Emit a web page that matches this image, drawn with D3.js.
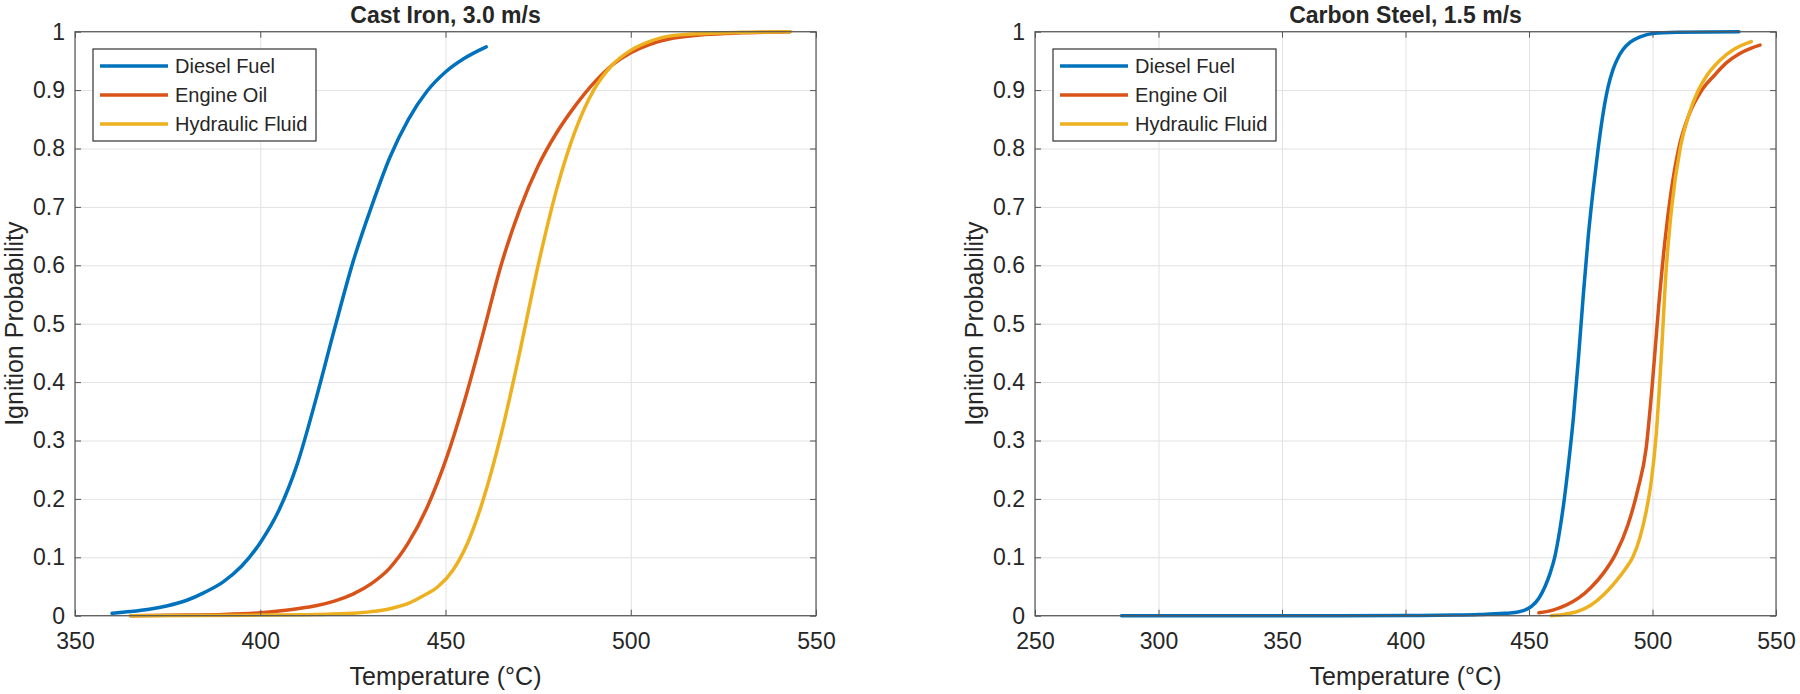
<!DOCTYPE html>
<html>
<head>
  <meta charset="utf-8">
  <title>Ignition Probability</title>
  <script src="https://d3js.org/d3.v7.min.js"></script>
  <style>
    body { margin: 0; background: #fff; }
    text { font-family: "Liberation Sans", Arial, sans-serif; fill: #262626; }
  </style>
</head>
<body>
  <div id="chart"></div>

  <script>
    // series names and MATLAB default line colours
    const fluids = ["Diesel Fuel", "Engine Oil", "Hydraulic Fluid"];
    const colors = ["#0072BD", "#D95319", "#EDB120"];

    const yTicks = [0, 0.1, 0.2, 0.3, 0.4, 0.5, 0.6, 0.7, 0.8, 0.9, 1];
    const castIronXTicks = [350, 400, 450, 500, 550];
    const carbonSteelXTicks = [250, 300, 350, 400, 450, 500, 550];

    // [temperature °C, probability]
    const castIronDiesel = [
      [360, 0.004], [365, 0.007], [370, 0.011], [375, 0.017], [380, 0.026],
      [385, 0.04], [390, 0.058], [395, 0.085], [400, 0.125], [405, 0.18],
      [410, 0.26], [415, 0.37], [420, 0.49], [425, 0.605], [430, 0.70],
      [435, 0.785], [440, 0.85], [445, 0.898], [450, 0.931], [455, 0.954],
      [461, 0.974]
    ];
    const castIronOil = [
      [365, 0.0], [380, 0.001], [390, 0.002], [400, 0.005], [405, 0.008],
      [410, 0.012], [415, 0.017], [420, 0.025], [425, 0.037], [430, 0.055],
      [435, 0.082], [440, 0.125], [445, 0.185], [450, 0.265], [455, 0.365],
      [460, 0.48], [465, 0.60], [470, 0.695], [475, 0.77], [480, 0.827],
      [485, 0.873], [490, 0.912], [495, 0.943], [500, 0.964], [505, 0.978],
      [510, 0.987], [520, 0.995], [530, 0.998], [543, 1.0]
    ];
    const castIronHydraulic = [
      [365, 0.0], [400, 0.001], [415, 0.002], [425, 0.004], [430, 0.007],
      [435, 0.012], [440, 0.021], [444, 0.034], [448, 0.05], [452, 0.078],
      [456, 0.125], [460, 0.195], [465, 0.31], [470, 0.45], [475, 0.60],
      [480, 0.73], [485, 0.83], [490, 0.90], [495, 0.943], [500, 0.968],
      [505, 0.983], [510, 0.992], [520, 0.997], [530, 0.999], [543, 1.0]
    ];

    const carbonSteelDiesel = [
      [285, 0.0], [350, 0.0], [400, 0.0003], [420, 0.001], [430, 0.002],
      [440, 0.004], [445, 0.006], [448, 0.009], [451, 0.016], [454, 0.03],
      [456.5, 0.05], [458.5, 0.072], [460.4, 0.10], [462.4, 0.145], [464.3, 0.20],
      [466, 0.26], [468, 0.34], [470, 0.44], [472, 0.55], [474, 0.65],
      [476, 0.73], [478, 0.80], [480, 0.86], [482, 0.905], [484, 0.935],
      [486, 0.955], [488, 0.969], [491, 0.982], [495, 0.991], [500, 0.997],
      [510, 0.999], [535, 1.0]
    ];
    const carbonSteelOil = [
      [454, 0.005], [460, 0.01], [465, 0.018], [470, 0.03], [475, 0.048],
      [480, 0.072], [485, 0.105], [490, 0.155], [494, 0.215], [497.4, 0.286],
      [500, 0.40], [502.5, 0.53], [505, 0.64], [507.5, 0.725], [510.6, 0.80],
      [515, 0.86], [520, 0.90], [525, 0.925], [530, 0.947], [535, 0.962],
      [540, 0.972], [543.5, 0.977]
    ];
    const carbonSteelHydraulic = [
      [459, 0.0], [465, 0.003], [470, 0.008], [475, 0.018], [480, 0.035],
      [485, 0.058], [489, 0.08], [492, 0.10], [495, 0.135], [497.5, 0.18],
      [499.5, 0.23], [501.5, 0.31], [503.5, 0.44], [505.5, 0.59], [507.8, 0.70],
      [511.2, 0.80], [514.5, 0.855], [518.6, 0.90], [522, 0.925], [527, 0.95],
      [533, 0.97], [540, 0.983]
    ];

    const width = 1800, height = 694;
    const svg = d3.select("#chart").append("svg")
      .attr("width", width)
      .attr("height", height);

    const panels = [
      {
        title: "Cast Iron, 3.0 m/s",
        left: 75, right: 816,
        xDomain: [350, 550], xTicks: castIronXTicks,
        series: [castIronDiesel, castIronOil, castIronHydraulic]
      },
      {
        title: "Carbon Steel, 1.5 m/s",
        left: 1035, right: 1776,
        xDomain: [250, 550], xTicks: carbonSteelXTicks,
        series: [carbonSteelDiesel, carbonSteelOil, carbonSteelHydraulic]
      }
    ];

    const plotTop = 31.7, plotBottom = 615.7;
    const y = d3.scaleLinear().domain([0, 1]).range([plotBottom, plotTop]);

    panels.forEach(p => {
      const x = d3.scaleLinear().domain(p.xDomain).range([p.left, p.right]);
      const g = svg.append("g");
      const w = p.right - p.left, h = plotBottom - plotTop;

      // grid
      g.append("g")
        .attr("transform", `translate(0,${plotBottom})`)
        .call(d3.axisBottom(x).tickValues(p.xTicks).tickSize(-h).tickFormat(""))
        .call(s => s.select(".domain").remove())
        .selectAll("line").attr("stroke", "#e2e2e2");
      g.append("g")
        .attr("transform", `translate(${p.left},0)`)
        .call(d3.axisLeft(y).tickValues(yTicks).tickSize(-w).tickFormat(""))
        .call(s => s.select(".domain").remove())
        .selectAll("line").attr("stroke", "#e2e2e2");

      // curves
      const line = d3.line()
        .x(d => x(d[0]))
        .y(d => y(d[1]))
        .curve(d3.curveMonotoneX);

      p.series.forEach((data, i) => {
        g.append("path")
          .datum(data)
          .attr("fill", "none")
          .attr("stroke", colors[i])
          .attr("stroke-width", 3.5)
          .attr("stroke-linecap", "round")
          .attr("d", line);
      });

      // box and ticks (inside, all four sides)
      const axisColor = "#555";
      const xb = g.append("g")
        .attr("transform", `translate(0,${plotBottom})`)
        .call(d3.axisBottom(x).tickValues(p.xTicks).tickSize(-6).tickPadding(17));
      const yl = g.append("g")
        .attr("transform", `translate(${p.left},0)`)
        .call(d3.axisLeft(y).tickValues(yTicks).tickSize(-6).tickPadding(10)
          .tickFormat(d => d === 0 || d === 1 ? d : d.toFixed(1)));
      const xt = g.append("g")
        .attr("transform", `translate(0,${plotTop})`)
        .call(d3.axisTop(x).tickValues(p.xTicks).tickSize(-6).tickFormat(""));
      const yr = g.append("g")
        .attr("transform", `translate(${p.right},0)`)
        .call(d3.axisRight(y).tickValues(yTicks).tickSize(-6).tickFormat(""));

      [xb, yl, xt, yr].forEach(a => {
        a.selectAll("path, line").attr("stroke", axisColor);
        a.selectAll("text")
          .attr("fill", "#262626")
          .style("font-size", "23px")
          .style("font-family", "'Liberation Sans', Arial, sans-serif");
        a.select(".domain").remove();
      });
      g.append("rect")
        .attr("x", p.left).attr("y", plotTop)
        .attr("width", w).attr("height", h)
        .attr("fill", "none")
        .attr("stroke", axisColor)
        .attr("stroke-width", 1.2);

      // titles and labels
      g.append("text")
        .attr("x", (p.left + p.right) / 2)
        .attr("y", 23)
        .attr("text-anchor", "middle")
        .style("font-size", "23px")
        .style("font-weight", "bold")
        .text(p.title);

      g.append("text")
        .attr("x", (p.left + p.right) / 2)
        .attr("y", 685)
        .attr("text-anchor", "middle")
        .style("font-size", "25px")
        .text("Temperature (°C)");

      g.append("text")
        .attr("transform", `translate(${p.left - 52},${(plotTop + plotBottom) / 2}) rotate(-90)`)
        .attr("text-anchor", "middle")
        .style("font-size", "25px")
        .text("Ignition Probability");

      // legend
      const lx = p.left + 18, ly = 49;
      const legend = g.append("g").attr("transform", `translate(${lx},${ly})`);
      legend.append("rect")
        .attr("width", 223).attr("height", 92)
        .attr("fill", "#fff")
        .attr("stroke", "#333")
        .attr("stroke-width", 1.2);
      fluids.forEach((name, i) => {
        const row = legend.append("g").attr("transform", `translate(0,${17 + i * 29})`);
        row.append("line")
          .attr("x1", 7).attr("x2", 75)
          .attr("stroke", colors[i])
          .attr("stroke-width", 3.5);
        row.append("text")
          .attr("x", 82)
          .attr("dy", "0.35em")
          .style("font-size", "20px")
          .text(name);
      });
    });
  </script>
</body>
</html>
